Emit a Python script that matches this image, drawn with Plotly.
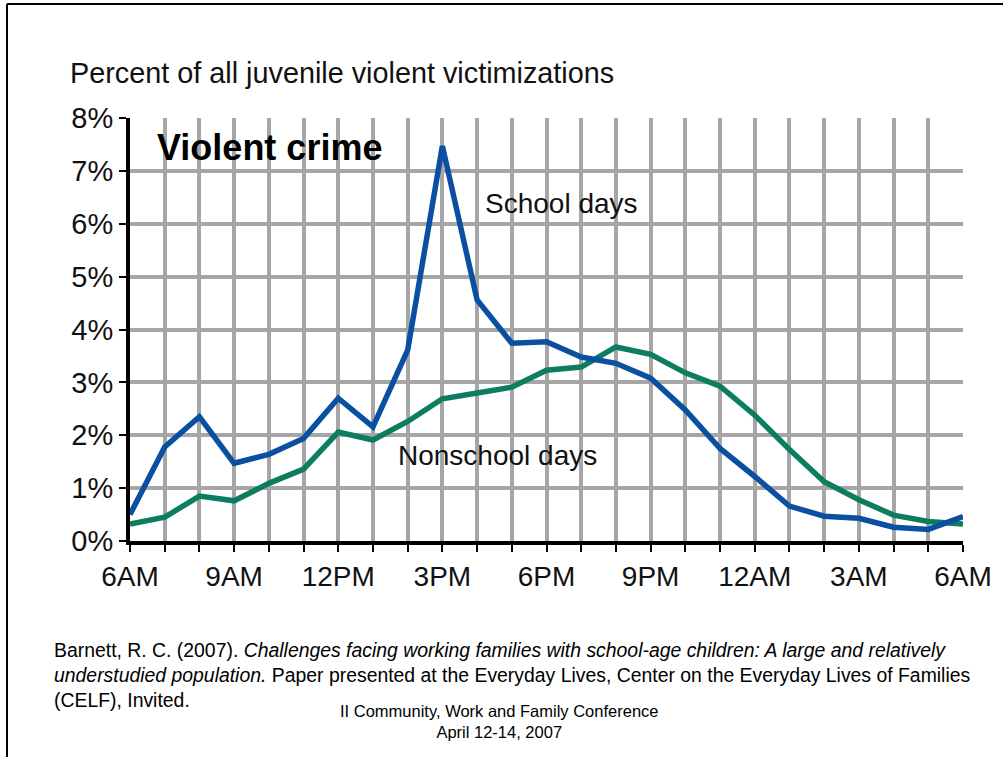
import plotly.graph_objects as go

hours = list(range(25))
tick_labels = ["6AM", "", "", "9AM", "", "", "12PM", "", "", "3PM", "", "", "6PM", "", "",
               "9PM", "", "", "12AM", "", "", "3AM", "", "", "6AM"]
school_days = [0.50, 1.78, 2.35, 1.47, 1.64, 1.94, 2.70, 2.16, 3.61, 7.47, 4.56, 3.74, 3.77,
               3.48, 3.36, 3.08, 2.48, 1.75, 1.22, 0.66, 0.47, 0.43, 0.26, 0.22, 0.46]
nonschool_days = [0.32, 0.45, 0.85, 0.76, 1.09, 1.36, 2.06, 1.91, 2.26, 2.69, 2.80, 2.91, 3.23,
                  3.29, 3.67, 3.53, 3.18, 2.93, 2.38, 1.73, 1.12, 0.78, 0.49, 0.37, 0.32]
y_ticks = [0, 1, 2, 3, 4, 5, 6, 7, 8]
y_labels = [f"{v}%" for v in y_ticks]

W, H = 1003, 757
L, R, T, B = 130, 40, 118, 216
PW, PH = W - L - R, H - T - B

def px(x):
    return (x - L) / PW

def py(y):
    return (H - B - y) / PH

FONT = "Liberation Sans, Arial, sans-serif"

fig = go.Figure()
fig.add_trace(go.Scatter(x=hours, y=nonschool_days, mode="lines", name="Nonschool days",
                         line=dict(color="#0d7d60", width=5.5)))
fig.add_trace(go.Scatter(x=hours, y=school_days, mode="lines", name="School days",
                         line=dict(color="#0a4fa2", width=5.5)))

fig.update_layout(
    width=W, height=H,
    margin=dict(l=L, r=R, t=T, b=B),
    paper_bgcolor="white", plot_bgcolor="white",
    showlegend=False,
    font=dict(family=FONT, color="black"),
)
fig.update_xaxes(range=[0, 24], tickvals=hours, ticktext=tick_labels,
                 showgrid=True, gridcolor="#a6a6a6", gridwidth=4,
                 showline=True, linecolor="black", linewidth=4,
                 ticks="outside", ticklen=7, tickwidth=2, tickcolor="black",
                 tickfont=dict(size=28, family=FONT, color="#111"), zeroline=False)
fig.update_yaxes(range=[0, 8], tickvals=y_ticks, ticktext=y_labels,
                 showgrid=True, gridcolor="#a6a6a6", gridwidth=4,
                 showline=True, linecolor="black", linewidth=4,
                 ticks="outside", ticklen=7, tickwidth=2, tickcolor="black",
                 tickfont=dict(size=29, family=FONT, color="#111"), zeroline=False)

ann = []
ann.append(dict(text="Percent of all juvenile violent victimizations", x=px(68), y=py(73),
                xref="paper", yref="paper", xanchor="left", yanchor="middle", showarrow=False,
                font=dict(size=28.8, family=FONT, color="#111")))
ann.append(dict(text="<b>Violent crime</b>", x=px(155), y=py(147),
                xref="paper", yref="paper", xanchor="left", yanchor="middle", showarrow=False,
                font=dict(size=36, family=FONT, color="black")))
ann.append(dict(text="School days", x=px(561), y=py(203),
                xref="paper", yref="paper", xanchor="center", yanchor="middle", showarrow=False,
                font=dict(size=28, family=FONT, color="#111")))
ann.append(dict(text="Nonschool days", x=px(497), y=py(455),
                xref="paper", yref="paper", xanchor="center", yanchor="middle", showarrow=False,
                font=dict(size=28, family=FONT, color="#111")))
ann.append(dict(text="Barnett, R. C. (2007). <i>Challenges facing working families with school-age children: A large and relatively</i><br>"
                     "<i>understudied population.</i> Paper presented at the Everyday Lives, Center on the Everyday Lives of Families<br>"
                     "(CELF), Invited.",
                x=px(52), y=py(637), xref="paper", yref="paper", xanchor="left", yanchor="top",
                align="left", showarrow=False,
                font=dict(size=19.4, family=FONT, color="black")))
ann.append(dict(text="II Community, Work and Family Conference<br>April 12-14, 2007",
                x=px(499), y=py(700), xref="paper", yref="paper", xanchor="center", yanchor="top",
                align="center", showarrow=False,
                font=dict(size=16.5, family=FONT, color="black")))
fig.update_layout(annotations=ann)

fig.add_shape(type="line", xref="paper", yref="paper", x0=px(7), x1=px(7), y0=py(4), y1=py(757),
              line=dict(color="black", width=2))
fig.add_shape(type="line", xref="paper", yref="paper", x0=px(7), x1=px(1003), y0=py(4), y1=py(4),
              line=dict(color="black", width=2))

fig.write_html("out.html")
